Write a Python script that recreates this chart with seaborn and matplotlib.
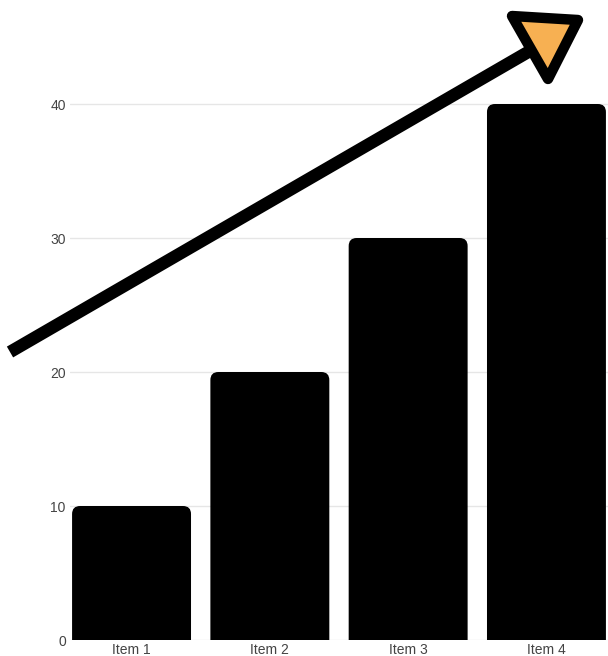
import matplotlib
matplotlib.use("Agg")
import matplotlib.pyplot as plt
import seaborn as sns
import pandas as pd
from matplotlib.patches import PathPatch, Polygon
from matplotlib.path import Path
from matplotlib.lines import Line2D

categories = ["Item 1", "Item 2", "Item 3", "Item 4"]
values = [10, 20, 30, 40]
y_ticks = [0, 10, 20, 30, 40]

sns.set_theme(style="white")
plt.rcParams['font.family'] = ['Liberation Sans', 'DejaVu Sans']

W, H = 608, 656
fig = plt.figure(figsize=(W / 100, H / 100), dpi=100)
ax = fig.add_axes([70 / W, 16 / H, 538 / W, 640 / H])

df = pd.DataFrame({"cat": categories, "val": values})
sns.barplot(data=df, x="cat", y="val", color="black", width=0.86, ax=ax, saturation=1)

ax.set_xlim(-0.445, 3.445)
ax.set_ylim(0, 40 + 104 / 13.4)

# rounded top corners: rebuild each bar as a path
px_x = 1 / 138.33
px_y = 1 / 13.4
rx = 8 * px_x
ry = 8 * px_y
for p in list(ax.patches):
    x0, y0 = p.get_x(), p.get_y()
    w, h = p.get_width(), p.get_height()
    x1, y1 = x0 + w, y0 + h
    p.set_visible(False)
    verts = [(x0, y0), (x1, y0), (x1, y1 - ry), (x1, y1), (x1 - rx, y1),
             (x0 + rx, y1), (x0, y1), (x0, y1 - ry), (x0, y0)]
    codes = [Path.MOVETO, Path.LINETO, Path.LINETO, Path.CURVE3, Path.CURVE3,
             Path.LINETO, Path.CURVE3, Path.CURVE3, Path.CLOSEPOLY]
    ax.add_patch(PathPatch(Path(verts, codes), facecolor="black",
                           edgecolor="none", zorder=2))

ax.set_yticks(y_ticks)
ax.set_yticklabels([str(v) for v in y_ticks])
ax.grid(axis="y", color="#e6e6e6", linewidth=1, zorder=0)
ax.set_axisbelow(True)
for s in ax.spines.values():
    s.set_visible(False)
ax.tick_params(axis="both", length=0, labelsize=10, colors="#444444")
ax.tick_params(axis="y", pad=3)
ax.tick_params(axis="x", pad=2)
ax.set_xlabel("")
ax.set_ylabel("")

# arrow decoration in figure pixel coordinates
def fx(x):
    return x / W

def fy(y):
    return 1 - y / H

line = Line2D([fx(10), fx(535)], [fy(352), fy(48)], transform=fig.transFigure,
              color="black", linewidth=9, solid_capstyle="butt", zorder=5)
fig.add_artist(line)
tri = Polygon([(fx(512), fy(16)), (fx(578), fy(20)), (fx(548), fy(79))],
              closed=True, transform=fig.transFigure, facecolor="#f7b052",
              edgecolor="black", linewidth=7.5, joinstyle="round", zorder=6)
fig.add_artist(tri)

fig.savefig("out.png", dpi=100)
